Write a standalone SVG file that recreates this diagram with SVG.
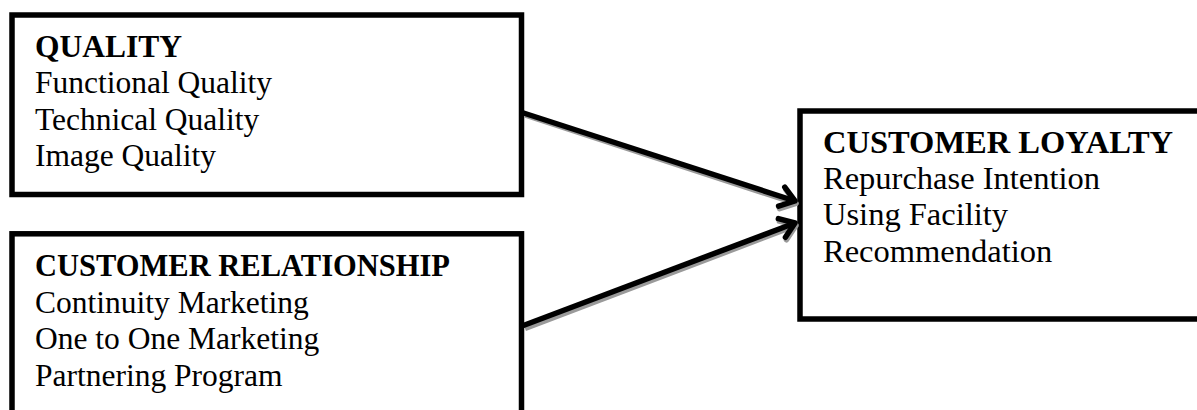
<svg xmlns="http://www.w3.org/2000/svg" width="1197" height="410" viewBox="0 0 1197 410">
  <style>
    .box { fill: #ffffff; stroke: #000000; stroke-width: 5.5; }
    .shadow { stroke: #9a9a9a; stroke-width: 5.5; fill: none; }
    .t { font-family: "Liberation Serif", "Times New Roman", serif; font-size: 31.5px; fill: #000000; }
    .t3 { font-size: 32.5px; }
    .h { font-weight: bold; }
    .hs { font-size: 30.5px; }
    .conn { stroke: #000000; stroke-width: 5.5; fill: none; }
  </style>
  <defs>
    <marker id="ah" markerUnits="userSpaceOnUse" markerWidth="30" markerHeight="30" refX="0" refY="0" viewBox="-20 -15 25 30" orient="auto" overflow="visible">
      <path d="M -14 -10 L 0 0 L -14 10" fill="none" stroke="#000000" stroke-width="5.5" stroke-linecap="round" stroke-linejoin="round"/>
    </marker>
    <marker id="ahs" markerUnits="userSpaceOnUse" markerWidth="30" markerHeight="30" refX="0" refY="0" viewBox="-20 -15 25 30" orient="auto" overflow="visible">
      <path d="M -14 -10 L 0 0 L -14 10" fill="none" stroke="#9a9a9a" stroke-width="5.5" stroke-linecap="round" stroke-linejoin="round"/>
    </marker>
  </defs>
  <rect width="1197" height="410" fill="#ffffff"/>

  <g id="quality">
    <rect class="box" x="12" y="15" width="509.5" height="179.5"/>
    <text class="t h" x="35" y="56.5">QUALITY</text>
    <text class="t" x="35" y="93">Functional Quality</text>
    <text class="t" x="35" y="129.5">Technical Quality</text>
    <text class="t" x="35" y="166">Image Quality</text>
  </g>

  <g id="customer-relationship">
    <rect class="box" x="12" y="233.8" width="509.5" height="220"/>
    <text class="t h hs" x="35" y="276">CUSTOMER RELATIONSHIP</text>
    <text class="t" x="35" y="312.5">Continuity Marketing</text>
    <text class="t" x="35" y="349">One to One Marketing</text>
    <text class="t" x="35" y="386">Partnering Program</text>
  </g>

  <g id="customer-loyalty">
    <rect class="box" x="800" y="111" width="420" height="208"/>
    <text class="t t3 h" x="823" y="152.5">CUSTOMER LOYALTY</text>
    <text class="t t3" x="823" y="188.5">Repurchase Intention</text>
    <text class="t t3" x="823" y="225">Using Facility</text>
    <text class="t t3" x="823" y="261.5">Recommendation</text>
  </g>

  <g id="connectors">
    <line class="shadow" x1="525" y1="115" x2="796" y2="203.5" marker-end="url(#ahs)"/>
    <line class="shadow" x1="525" y1="328.5" x2="796" y2="225.5" marker-end="url(#ahs)"/>
    <line class="conn" x1="522" y1="112.5" x2="795" y2="201" marker-end="url(#ah)"/>
    <line class="conn" x1="522" y1="326" x2="795" y2="223" marker-end="url(#ah)"/>
  </g>
</svg>
